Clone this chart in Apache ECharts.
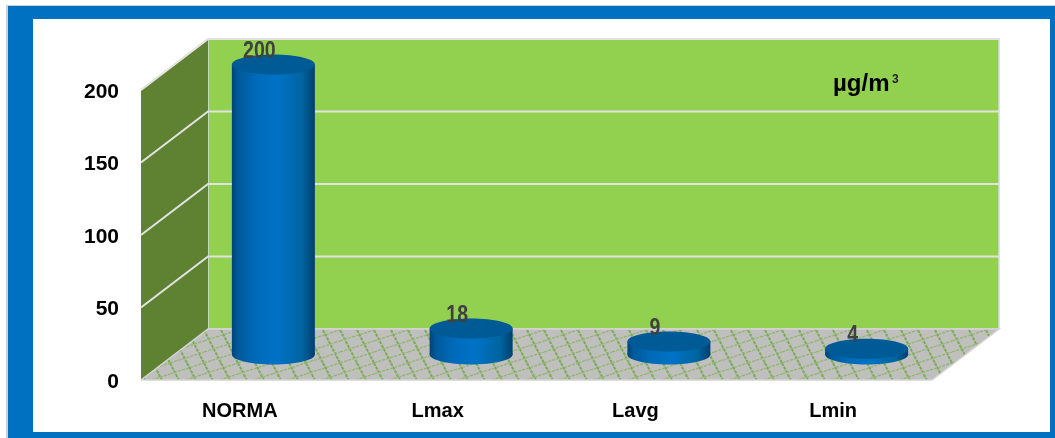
<!DOCTYPE html>
<html><head><meta charset="utf-8">
<style>html,body{margin:0;padding:0;background:#fff}#c{width:1055px;height:438px}</style>
<script src="https://cdn.jsdelivr.net/npm/echarts@6/dist/echarts.min.js"></script>
</head><body><div id="c"></div>
<script>
const categories = ['NORMA', 'Lmax', 'Lavg', 'Lmin'];
const values = [200, 18, 9, 4];
const yTicks = [0, 50, 100, 150, 200];
const unitText = ['µg/m', '3'];

const FONT = '"Liberation Sans",Arial,sans-serif';
const DEPTH = [67, -51];
const RX = 41.5, RY = 10;

function floorPattern() {
  const W = 34, H = 33, cv = document.createElement('canvas');
  cv.width = W; cv.height = H;
  const g = cv.getContext('2d');
  g.fillStyle = '#bfbfbd'; g.fillRect(0, 0, W, H);
  g.strokeStyle = '#7dab55'; g.lineWidth = 2; g.setLineDash([3.2, 1]);
  for (let i = -2; i <= 2; i++) {
    g.beginPath(); g.moveTo(i * 17, 0); g.lineTo(i * 17 + 17, 33); g.stroke();
  }
  g.strokeStyle = '#93b672'; g.lineWidth = 1.3;
  for (let i = -2; i <= 5; i++) {
    g.beginPath(); g.moveTo(0, i * 11); g.lineTo(34, i * 11 - 11); g.stroke();
  }
  return cv;
}
const pattern = { image: floorPattern(), repeat: 'repeat' };

const chart = echarts.init(document.getElementById('c'), null, { renderer: 'canvas' });

function renderWalls(params, api) {
  const cs = params.coordSys;
  const L = cs.x, R = cs.x + cs.width;
  const y0 = api.coord([0, 0])[1], yT = api.coord([0, yTicks[yTicks.length - 1]])[1];
  const dx = DEPTH[0], dy = DEPTH[1];
  const kids = [
    { type: 'polygon', shape: { points: [[L + dx, yT + dy], [R + dx, yT + dy], [R + dx, y0 + dy], [L + dx, y0 + dy]] },
      style: { fill: '#92d050', stroke: '#d9d9d9', lineWidth: 1.5 } },
    { type: 'polygon', shape: { points: [[L, yT], [L + dx, yT + dy], [L + dx, y0 + dy], [L, y0]] },
      style: { fill: '#5f8232' } },
    { type: 'polygon', shape: { points: [[L, y0], [L + dx, y0 + dy], [R + dx, y0 + dy], [R, y0]] },
      style: { fill: pattern } },
    { type: 'polyline', shape: { points: [[L, y0], [L + dx, y0 + dy], [R + dx, y0 + dy], [R, y0], [L, y0]] },
      style: { fill: 'none', stroke: '#d4d4d4', lineWidth: 1.5 } },
    { type: 'polyline', shape: { points: [[L, yT], [L + dx, yT + dy]] },
      style: { fill: 'none', stroke: '#d9d9d9', lineWidth: 1.5 } }
  ];
  yTicks.slice(1).forEach(t => {
    const y = api.coord([0, t])[1];
    kids.push({ type: 'polyline', shape: { points: [[L, y], [L + dx, y + dy], [R + dx, y + dy]] },
      style: { fill: 'none', stroke: '#e2e2e2', lineWidth: 2 } });
  });
  return { type: 'group', children: kids };
}

function renderBar(params, api) {
  const base = api.coord([api.value(0), 0]);
  const top = api.coord([api.value(0), api.value(1)]);
  const cx = base[0] + DEPTH[0] / 2, by = base[1] + DEPTH[1] / 2, ty = top[1] + DEPTH[1] / 2;
  const grad = new echarts.graphic.LinearGradient(0, 0, 1, 0, [
    { offset: 0, color: '#004475' }, { offset: 0.08, color: '#005a9c' }, { offset: 0.28, color: '#006ab8' },
    { offset: 0.55, color: '#0072c6' }, { offset: 0.85, color: '#00649f' }, { offset: 1, color: '#003f6e' }
  ]);
  return { type: 'group', children: [
    { type: 'ellipse', shape: { cx, cy: by, rx: RX, ry: RY }, style: { fill: grad } },
    { type: 'rect', shape: { x: cx - RX, y: ty, width: RX * 2, height: by - ty }, style: { fill: grad } },
    { type: 'ellipse', shape: { cx, cy: ty, rx: RX, ry: RY }, style: { fill: '#005a96' } },
    { type: 'text', x: cx - 14, y: ty - 13, scaleX: 0.85,
      style: { text: String(api.value(1)), fontFamily: FONT, fontSize: 23, fontWeight: 'bold', fill: '#404040', align: 'center', verticalAlign: 'middle' } }
  ] };
}

chart.setOption({
  animation: false,
  backgroundColor: '#fff',
  grid: { left: 141, width: 791, top: 90, height: 290 },
  xAxis: { type: 'category', data: categories,
    axisLine: { show: false }, axisTick: { show: false },
    axisLabel: { margin: 21, fontFamily: FONT, fontWeight: 'bold', fontSize: 20, color: '#000' } },
  yAxis: { type: 'value', min: 0, max: 200, interval: 50,
    axisLine: { show: false }, axisTick: { show: false }, splitLine: { show: false },
    axisLabel: { margin: 22, fontFamily: FONT, fontWeight: 'bold', fontSize: 21, color: '#000', verticalAlign: 'top', lineHeight: 4 } },
  graphic: [
    { type: 'rect', z: -10, silent: true, shape: { x: 6, y: 5, width: 1049, height: 433 }, style: { fill: '#d0d0d0' } },
    { type: 'rect', z: -9, silent: true, shape: { x: 8, y: 6, width: 1047, height: 432 }, style: { fill: '#0070c0' } },
    { type: 'rect', z: -8, silent: true, shape: { x: 33, y: 19, width: 1017, height: 413 }, style: { fill: '#fff' } },
    { type: 'text', z: 10, left: 833, top: 72, style: { text: unitText[0], fontFamily: FONT, fontWeight: 'bold', fontSize: 24, fill: '#000' } },
    { type: 'text', z: 10, left: 892, top: 74, style: { text: unitText[1], fontFamily: FONT, fontWeight: 'bold', fontSize: 12, fill: '#222' } }
  ],
  series: [
    { type: 'custom', z: 1, silent: true, coordinateSystem: 'cartesian2d', data: [[0, 0]], renderItem: renderWalls, clip: false },
    { type: 'custom', z: 2, silent: true, coordinateSystem: 'cartesian2d', encode: { x: 0, y: 1 },
      data: values.map((v, i) => [i, v]), renderItem: renderBar, clip: false }
  ]
});
</script></body></html>
